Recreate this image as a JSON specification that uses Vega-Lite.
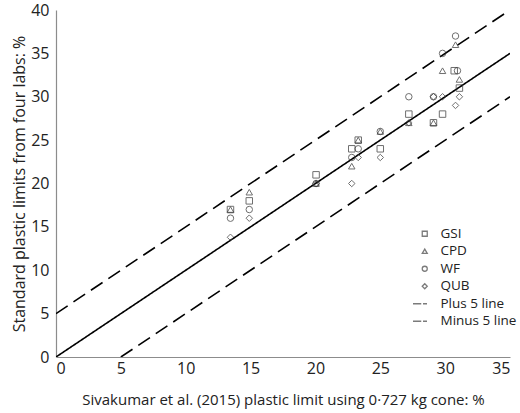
{
  "$schema": "https://vega.github.io/schema/vega-lite/v6.json",
  "width": 454,
  "height": 347,
  "autosize": {"type": "none"},
  "padding": {"left": 56, "top": 10, "right": 10, "bottom": 56},
  "background": "white",
  "config": {
    "font": "Open Sans",
    "view": {"stroke": null},
    "axis": {
      "grid": false,
      "ticks": false,
      "domainColor": "#8c8c8c",
      "domainWidth": 1.2,
      "labelFont": "Open Sans",
      "labelFontSize": 16,
      "labelColor": "#222",
      "titleFont": "Open Sans",
      "titleFontWeight": "normal",
      "titleColor": "#222"
    }
  },
  "datasets": {
    "labs": [
      {"soil": 1, "x": 13.45, "y": 17, "lab": "GSI"},
      {"soil": 1, "x": 13.45, "y": 17, "lab": "CPD"},
      {"soil": 1, "x": 13.45, "y": 16, "lab": "WF"},
      {"soil": 1, "x": 13.45, "y": 13.8, "lab": "QUB"},
      {"soil": 2, "x": 14.9, "y": 18, "lab": "GSI"},
      {"soil": 2, "x": 14.9, "y": 19, "lab": "CPD"},
      {"soil": 2, "x": 14.9, "y": 17, "lab": "WF"},
      {"soil": 2, "x": 14.9, "y": 16, "lab": "QUB"},
      {"soil": 3, "x": 20.05, "y": 21, "lab": "GSI"},
      {"soil": 3, "x": 20.05, "y": 20, "lab": "CPD"},
      {"soil": 3, "x": 20.05, "y": 20, "lab": "WF"},
      {"soil": 3, "x": 20.05, "y": 20, "lab": "QUB"},
      {"soil": 4, "x": 22.8, "y": 24, "lab": "GSI"},
      {"soil": 4, "x": 22.8, "y": 22, "lab": "CPD"},
      {"soil": 4, "x": 22.8, "y": 23, "lab": "WF"},
      {"soil": 4, "x": 22.8, "y": 20, "lab": "QUB"},
      {"soil": 5, "x": 23.3, "y": 25, "lab": "GSI"},
      {"soil": 5, "x": 23.3, "y": 25, "lab": "CPD"},
      {"soil": 5, "x": 23.3, "y": 24, "lab": "WF"},
      {"soil": 5, "x": 23.3, "y": 23, "lab": "QUB"},
      {"soil": 6, "x": 25.0, "y": 24, "lab": "GSI"},
      {"soil": 6, "x": 25.0, "y": 26, "lab": "CPD"},
      {"soil": 6, "x": 25.0, "y": 26, "lab": "WF"},
      {"soil": 6, "x": 25.0, "y": 23, "lab": "QUB"},
      {"soil": 7, "x": 27.2, "y": 28, "lab": "GSI"},
      {"soil": 7, "x": 27.2, "y": 27, "lab": "CPD"},
      {"soil": 7, "x": 27.2, "y": 30, "lab": "WF"},
      {"soil": 7, "x": 27.2, "y": 27, "lab": "QUB"},
      {"soil": 8, "x": 29.1, "y": 27, "lab": "GSI"},
      {"soil": 8, "x": 29.1, "y": 27, "lab": "CPD"},
      {"soil": 8, "x": 29.1, "y": 30, "lab": "WF"},
      {"soil": 8, "x": 29.1, "y": 30, "lab": "QUB"},
      {"soil": 9, "x": 29.8, "y": 28, "lab": "GSI"},
      {"soil": 9, "x": 29.8, "y": 33, "lab": "CPD"},
      {"soil": 9, "x": 29.8, "y": 35, "lab": "WF"},
      {"soil": 9, "x": 29.8, "y": 30, "lab": "QUB"},
      {"soil": 10, "x": 30.7, "y": 33, "lab": "GSI"},
      {"soil": 10, "x": 30.8, "y": 36, "lab": "CPD"},
      {"soil": 10, "x": 30.8, "y": 37, "lab": "WF"},
      {"soil": 10, "x": 30.8, "y": 29, "lab": "QUB"},
      {"soil": 11, "x": 31.1, "y": 31, "lab": "GSI"},
      {"soil": 11, "x": 31.1, "y": 32, "lab": "CPD"},
      {"soil": 11, "x": 30.95, "y": 33, "lab": "WF"},
      {"soil": 11, "x": 31.1, "y": 30, "lab": "QUB"}
    ],
    "lines": [
      {"line": "Equality", "x": 0, "y": 0},
      {"line": "Equality", "x": 35, "y": 35},
      {"line": "Plus 5 line", "x": 0, "y": 5},
      {"line": "Plus 5 line", "x": 35, "y": 40},
      {"line": "Minus 5 line", "x": 5, "y": 0},
      {"line": "Minus 5 line", "x": 35, "y": 30}
    ]
  },
  "layer": [
    {
      "data": {"name": "lines"},
      "mark": {"type": "line", "color": "black", "strokeWidth": 1.6, "clip": true},
      "encoding": {
        "x": {"field": "x", "type": "quantitative"},
        "y": {"field": "y", "type": "quantitative"},
        "detail": {"field": "line"},
        "strokeDash": {
          "field": "line",
          "type": "nominal",
          "scale": {"domain": ["Equality", "Plus 5 line", "Minus 5 line"], "range": [[1, 0], [14, 7], [14, 7]]},
          "legend": null
        }
      }
    },
    {
      "data": {"name": "labs"},
      "mark": {"type": "point", "filled": false, "color": "#333", "strokeWidth": 1, "size": 42},
      "encoding": {
        "x": {
          "field": "x",
          "type": "quantitative",
          "scale": {"domain": [0, 35], "nice": false},
          "axis": {"values": [0, 5, 10, 15, 20, 25, 30, 35], "labelPadding": 3, "titlePadding": 16,
                   "titleFontSize": 15,
                   "title": "Sivakumar et al. (2015) plastic limit using 0·727 kg cone: %"}
        },
        "y": {
          "field": "y",
          "type": "quantitative",
          "scale": {"domain": [0, 40], "nice": false},
          "axis": {"values": [0, 5, 10, 15, 20, 25, 30, 35, 40], "labelPadding": 7, "titlePadding": 3,
                   "titleFontSize": 16,
                   "title": "Standard plastic limits from four labs: %"}
        },
        "shape": {
          "field": "lab",
          "type": "nominal",
          "scale": {
            "domain": ["GSI", "CPD", "WF", "QUB", "Plus 5 line", "Minus 5 line"],
            "range": ["square", "triangle-up", "circle", "diamond", "M-4.7,0H-1.4M-0.7,0H0.9", "M-4.7,0H-1.4M-0.7,0H0.9"]
          },
          "legend": {
            "title": null,
            "orient": "none",
            "legendX": 362,
            "legendY": 217,
            "padding": 0,
            "symbolSize": 25,
            "symbolStrokeColor": "#444",
            "symbolFillColor": "transparent",
            "symbolStrokeWidth": 1.3,
            "labelFont": "Open Sans",
            "labelFontSize": 13.5,
            "labelColor": "#222",
            "labelOffset": 9,
            "rowPadding": 2.5
          }
        }
      }
    }
  ]
}
